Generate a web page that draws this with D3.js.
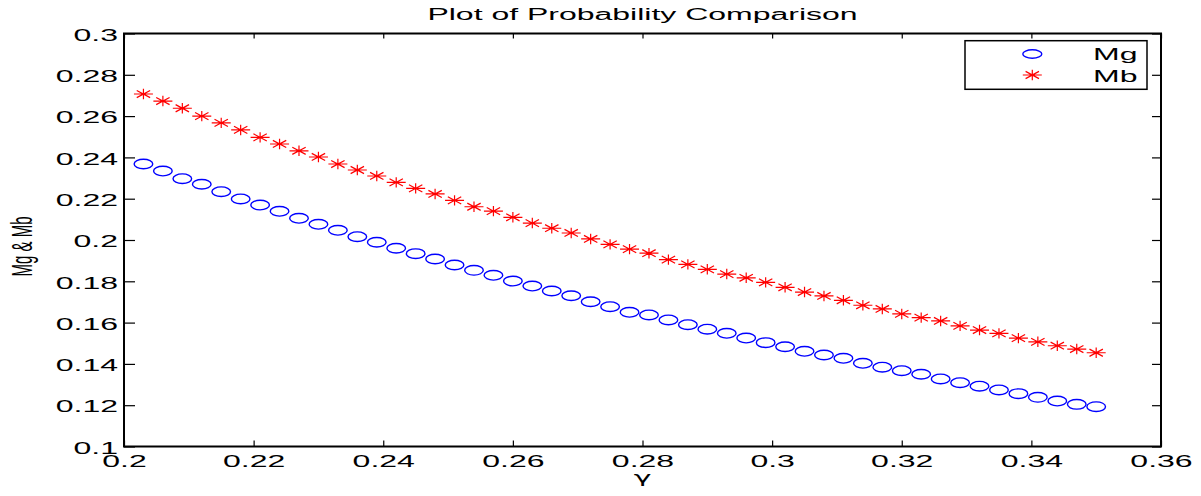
<!DOCTYPE html>
<html>
<head>
<meta charset="utf-8">
<script src="https://cdn.jsdelivr.net/npm/d3@7"></script>
<style>
  html, body { margin: 0; padding: 0; background: #fff; }
  svg { display: block; }
  text { font-family: "Liberation Sans", Arial, Helvetica, sans-serif; fill: #000; }
</style>
</head>
<body>
<svg width="1201" height="496"></svg>
<script>
// gamma values (x)
const gamma = [
  0.203, 0.206, 0.209, 0.212, 0.215, 0.218, 0.221, 0.224, 0.227, 0.230,
  0.233, 0.236, 0.239, 0.242, 0.245, 0.248, 0.251, 0.254, 0.257, 0.260,
  0.263, 0.266, 0.269, 0.272, 0.275, 0.278, 0.281, 0.284, 0.287, 0.290,
  0.293, 0.296, 0.299, 0.302, 0.305, 0.308, 0.311, 0.314, 0.317, 0.320,
  0.323, 0.326, 0.329, 0.332, 0.335, 0.338, 0.341, 0.344, 0.347, 0.350
];
const mg = [
  0.2368, 0.2334, 0.2297, 0.2270, 0.2234, 0.2199, 0.2169, 0.2139, 0.2105, 0.2076,
  0.2047, 0.2016, 0.1989, 0.1960, 0.1934, 0.1908, 0.1879, 0.1853, 0.1829, 0.1801,
  0.1777, 0.1753, 0.1730, 0.1701, 0.1677, 0.1650, 0.1637, 0.1613, 0.1590, 0.1568,
  0.1548, 0.1525, 0.1503, 0.1483, 0.1461, 0.1443, 0.1427, 0.1403, 0.1384, 0.1367,
  0.1350, 0.1327, 0.1309, 0.1292, 0.1274, 0.1256, 0.1238, 0.1220, 0.1204, 0.1193
];
const mb = [
  0.2707, 0.2673, 0.2638, 0.2600, 0.2567, 0.2533, 0.2497, 0.2465, 0.2432, 0.2402,
  0.2368, 0.2339, 0.2310, 0.2279, 0.2250, 0.2223, 0.2192, 0.2161, 0.2140, 0.2110,
  0.2082, 0.2057, 0.2034, 0.2005, 0.1979, 0.1956, 0.1936, 0.1905, 0.1882, 0.1858,
  0.1835, 0.1817, 0.1795, 0.1771, 0.1748, 0.1729, 0.1708, 0.1684, 0.1666, 0.1642,
  0.1624, 0.1608, 0.1584, 0.1564, 0.1548, 0.1525, 0.1507, 0.1488, 0.1472, 0.1454
];

const xTicks = [0.2, 0.22, 0.24, 0.26, 0.28, 0.3, 0.32, 0.34, 0.36];
const xTickLabels = ["0.2", "0.22", "0.24", "0.26", "0.28", "0.3", "0.32", "0.34", "0.36"];
const yTicks = [0.1, 0.12, 0.14, 0.16, 0.18, 0.2, 0.22, 0.24, 0.26, 0.28, 0.3];
const yTickLabels = ["0.1", "0.12", "0.14", "0.16", "0.18", "0.2", "0.22", "0.24", "0.26", "0.28", "0.3"];
const legendNames = ["Mg", "Mb"];

const titleText = "Plot of Probability Comparison";
const xLabelText = "\u03B3";
const yLabelText = "Mg & Mb";

// plot box (the original figure is stretched sideways, so text gets scale(2,1))
const boxL = 124, boxR = 1161, boxT = 33.5, boxB = 446.5;
const SX = 2;
const FS = "16px";

const svg = d3.select("svg");
svg.append("rect").attr("width", 1201).attr("height", 496).attr("fill", "#fff");

const x = d3.scaleLinear().domain([0.2, 0.36]).range([boxL, boxR]);
const y = d3.scaleLinear().domain([0.1, 0.3]).range([boxB, boxT]);

// axes, ticks pointing inwards
const gx = svg.append("g")
    .attr("transform", `translate(0,${boxB})`)
    .call(d3.axisBottom(x).tickValues(xTicks).tickFormat((d, i) => xTickLabels[i])
        .tickSizeInner(-6).tickSizeOuter(0));
gx.selectAll("text")
    .attr("y", 0).attr("dy", null)
    .attr("transform", `translate(0,20) scale(${SX},1)`)
    .style("font-size", FS);

const gxTop = svg.append("g")
    .attr("transform", `translate(0,${boxT})`)
    .call(d3.axisTop(x).tickValues(xTicks).tickFormat("").tickSizeInner(-5).tickSizeOuter(0));

const gy = svg.append("g")
    .attr("transform", `translate(${boxL},0)`)
    .call(d3.axisLeft(y).tickValues(yTicks).tickFormat((d, i) => yTickLabels[i])
        .tickSizeInner(-11).tickSizeOuter(0));
gy.selectAll("text")
    .attr("x", 0).attr("dy", "0.42em")
    .attr("transform", `translate(-6,0) scale(${SX},1)`)
    .style("font-size", FS);

const gyRight = svg.append("g")
    .attr("transform", `translate(${boxR},0)`)
    .call(d3.axisRight(y).tickValues(yTicks).tickFormat("").tickSizeInner(-9).tickSizeOuter(0));

[gx, gxTop, gy, gyRight].forEach(g => {
    g.select(".domain").remove();
    g.selectAll(".tick line").attr("stroke", "#000").attr("stroke-width", 1.2);
    g.attr("font-family", null).attr("font-size", null);
});

// box around the plot
svg.append("rect")
    .attr("x", boxL).attr("y", boxT)
    .attr("width", boxR - boxL).attr("height", boxB - boxT)
    .attr("fill", "none").attr("stroke", "#000").attr("stroke-width", 2);

// markers
const starPath = "M-9.5,0H9.5M0,-5.2V5.2M-6.7,-3.6L6.7,3.6M-6.7,3.6L6.7,-3.6";

svg.append("g").selectAll("ellipse")
    .data(gamma.map((g, i) => [g, mg[i]]))
    .enter().append("ellipse")
    .attr("cx", d => x(d[0])).attr("cy", d => y(d[1]))
    .attr("rx", 9.3).attr("ry", 4.8)
    .attr("fill", "none").attr("stroke", "#0000ff").attr("stroke-width", 1.4);

svg.append("g").selectAll("path")
    .data(gamma.map((g, i) => [g, mb[i]]))
    .enter().append("path")
    .attr("transform", d => `translate(${x(d[0])},${y(d[1])})`)
    .attr("d", starPath)
    .attr("fill", "none").attr("stroke", "#ff0000").attr("stroke-width", 1.2);

// title and labels
svg.append("text")
    .attr("transform", `translate(${(boxL + boxR) / 2},19.5) scale(${SX},1)`)
    .attr("text-anchor", "middle")
    .style("font-size", FS)
    .text(titleText);

svg.append("text")
    .attr("transform", `translate(${(boxL + boxR) / 2},483) scale(${SX},1)`)
    .attr("text-anchor", "middle")
    .style("font-family", "'DejaVu Sans', sans-serif")
    .style("font-size", "15px")
    .text(xLabelText);

svg.append("text")
    .attr("transform", `translate(32,246.5) scale(${SX},1) rotate(-90)`)
    .attr("text-anchor", "middle")
    .style("font-size", "15px")
    .text(yLabelText);

// legend
const legend = svg.append("g");
legend.append("rect")
    .attr("x", 965).attr("y", 40.7).attr("width", 182).attr("height", 48.6)
    .attr("fill", "#fff").attr("stroke", "#000").attr("stroke-width", 1.5);

const rows = legend.selectAll(".row")
    .data(legendNames)
    .enter().append("g")
    .attr("class", "row")
    .attr("transform", (d, i) => `translate(0,${i === 0 ? 54 : 76})`);

rows.filter((d, i) => i === 0).append("ellipse")
    .attr("cx", 1032.3).attr("cy", 0).attr("rx", 9.5).attr("ry", 4.2)
    .attr("fill", "none").attr("stroke", "#0000ff").attr("stroke-width", 1.4);
rows.filter((d, i) => i === 1).append("path")
    .attr("transform", "translate(1032.3,-1)")
    .attr("d", starPath)
    .attr("fill", "none").attr("stroke", "#ff0000").attr("stroke-width", 1.2);

rows.append("text")
    .attr("transform", `translate(1093,6) scale(${SX},1)`)
    .style("font-size", FS)
    .text(d => d);
</script>
</body>
</html>
